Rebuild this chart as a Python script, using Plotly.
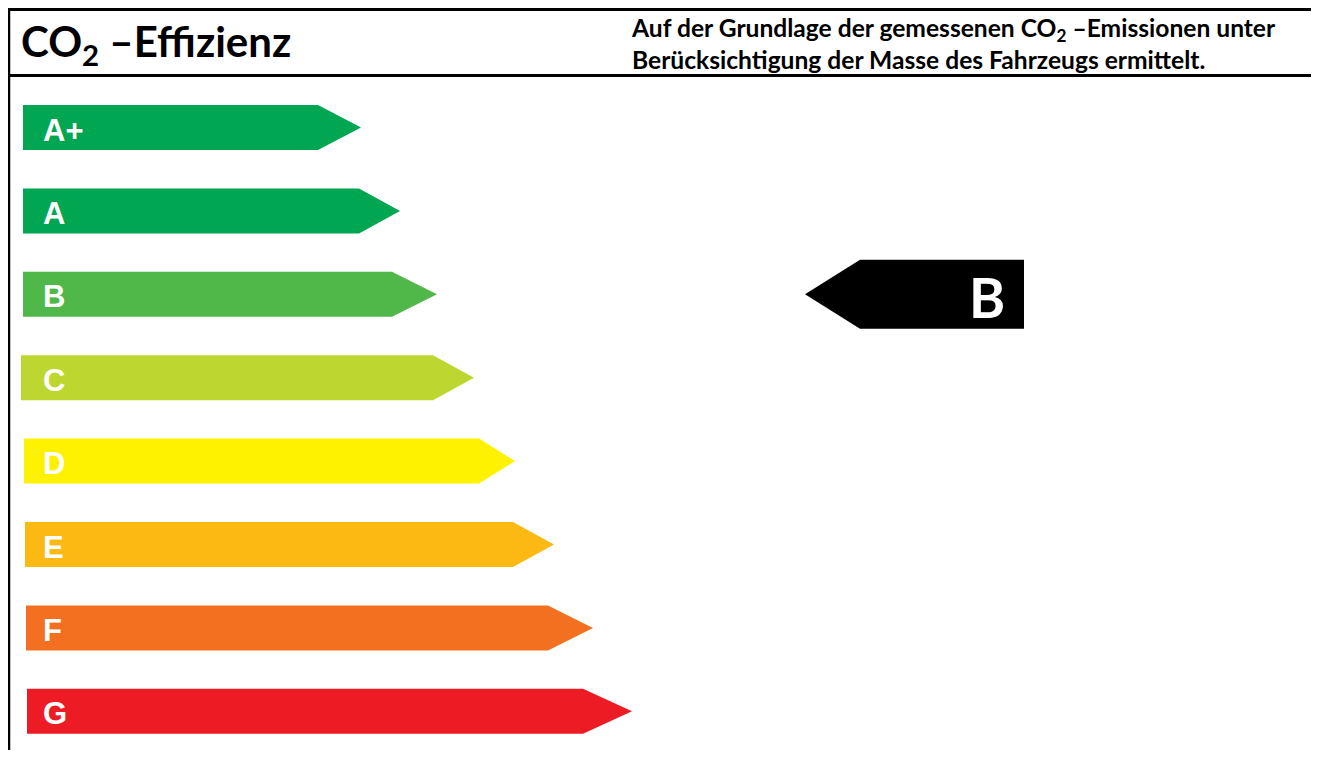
import plotly.graph_objects as go

# ---- data ----
grades = ["A+", "A", "B", "C", "D", "E", "F", "G"]
bar_start = [23, 23, 23, 21, 24, 25, 26, 27]
bar_end = [318, 359, 392, 433, 479, 513, 548, 583]
tip_end = [361, 400, 437, 474, 515, 554, 593, 632]
colors = ["#00A651", "#00A651", "#50B848", "#BED630", "#FFF200", "#FDB913", "#F37021", "#ED1C24"]
rated_grade = "B"
title_text = "CO<sub>2</sub> –Effizienz"
note_lines = ["Auf der Grundlage der gemessenen CO<sub>2</sub> –Emissionen unter",
              "Berücksichtigung der Masse des Fahrzeugs ermittelt."]

# page offset (browser body margin)
OFF = 8
BOTTOM = 758 - OFF
W, H = 1319 - OFF, BOTTOM - OFF
half = 0.27
pitch = 83.4
c0 = 127.5


def py(p):
    """reference pixel row -> paper y"""
    return 1 - (p - OFF) / H


fig = go.Figure()
for i, g in enumerate(grades):
    xs = [bar_start[i], bar_end[i], tip_end[i], bar_end[i], bar_start[i], bar_start[i]]
    ys = [i - half, i - half, i, i + half, i + half, i - half]
    fig.add_trace(go.Scatter(x=xs, y=ys, mode="lines", fill="toself",
                             fillcolor=colors[i], line=dict(width=0, color=colors[i]),
                             hoverinfo="skip", showlegend=False))
    fig.add_annotation(x=41, y=i + 0.03, text="<b>%s</b>" % g, showarrow=False,
                       xanchor="left", yanchor="middle",
                       font=dict(family="Liberation Sans", size=31, color="white"))

# indicator arrow
ri = grades.index(rated_grade)
ih = 0.414
ind_tip, ind_body, ind_end = 805, 860, 1024
fig.add_trace(go.Scatter(x=[ind_tip, ind_body, ind_end, ind_end, ind_body, ind_tip],
                         y=[ri, ri - ih, ri - ih, ri + ih, ri + ih, ri],
                         mode="lines", fill="toself", fillcolor="black",
                         line=dict(width=0, color="black"), hoverinfo="skip", showlegend=False))
fig.add_annotation(x=987, y=ri + 0.03, text="<b>%s</b>" % rated_grade, showarrow=False,
                   xanchor="center", yanchor="middle",
                   font=dict(family="Lato", size=55, color="white"))

# header
fig.add_annotation(x=19, y=py(44), xref="x", yref="paper", text="<b>%s</b>" % title_text,
                   showarrow=False, xanchor="left", yanchor="middle",
                   font=dict(family="Lato", size=42, color="black"))
fig.add_annotation(x=629, y=py(44), xref="x", yref="paper",
                   text="<b>%s</b><br><b>%s</b>" % tuple(note_lines),
                   showarrow=False, xanchor="left", yanchor="middle", align="left",
                   font=dict(family="Lato", size=24.6, color="black"))

line_style = dict(color="black", width=3)
fig.add_shape(type="line", xref="x", yref="paper", x0=OFF, x1=1319, y0=py(9.5), y1=py(9.5), line=line_style)
fig.add_shape(type="line", xref="x", yref="paper", x0=OFF, x1=1319, y0=py(75.5), y1=py(75.5), line=line_style)
fig.add_shape(type="line", xref="x", yref="paper", x0=9, x1=9, y0=0, y1=py(9), line=dict(color="black", width=2.5))

fig.update_layout(
    width=W, height=H, margin=dict(l=0, r=0, t=0, b=0),
    paper_bgcolor="white", plot_bgcolor="white",
    xaxis=dict(range=[OFF, 1319], visible=False, fixedrange=True),
    yaxis=dict(range=[(BOTTOM - c0) / pitch, (OFF - c0) / pitch], visible=False, fixedrange=True),
)
fig.write_html("out.html")
